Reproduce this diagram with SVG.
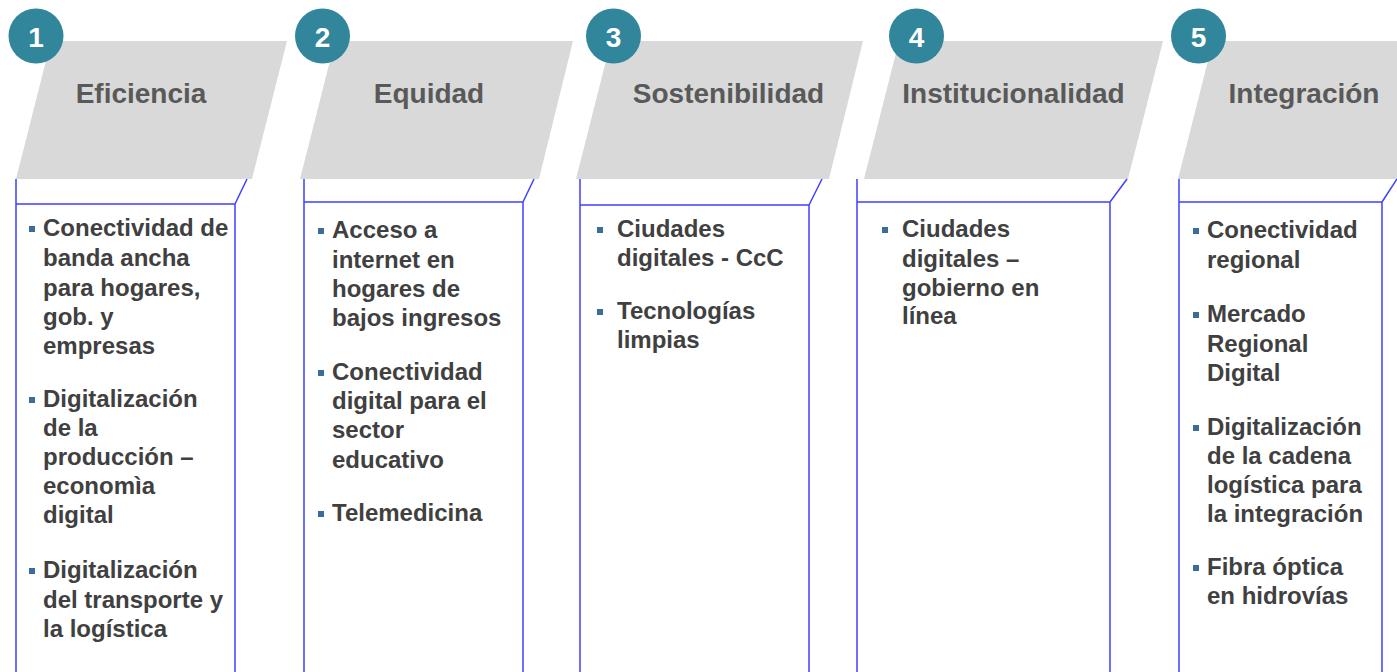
<svg xmlns="http://www.w3.org/2000/svg" width="1397" height="672" viewBox="0 0 1397 672">
<style>
.pg{fill:#d9d9d9}
.bx{fill:none;stroke:#4040ff;stroke-width:1.5}
.cc{fill:#31869b}
.num{font-family:"Liberation Sans",Arial,sans-serif;font-weight:bold;font-size:28px;fill:#ffffff;text-anchor:middle}
.ttl{font-family:"Liberation Sans",Arial,sans-serif;font-weight:bold;font-size:28px;fill:#595959;text-anchor:middle}
.tx{font-family:"Liberation Sans",Arial,sans-serif;font-weight:bold;font-size:24px;fill:#404040}
.bl{fill:#3a6c9c}
</style>
<rect width="1397" height="672" fill="#ffffff"/>

<g id="col1">
<polygon class="pg" points="51,41 287,41 252,179 16,179"/>
<path class="bx" d="M16,179 V672 M16,204 H235 V672 M235,204 L247,179"/>
<circle class="cc" cx="36" cy="36" r="27.5"/>
<text class="num" x="36" y="47">1</text>
<text class="ttl" x="141" y="103">Eficiencia</text>
<rect class="bl" x="29" y="226" width="6" height="6"/>
<rect class="bl" x="29" y="397" width="6" height="6"/>
<rect class="bl" x="29" y="568" width="6" height="6"/>
<text class="tx"><tspan x="43" y="236">Conectividad de</tspan><tspan x="43" y="266">banda ancha</tspan><tspan x="43" y="296">para hogares,</tspan><tspan x="43" y="325">gob. y</tspan><tspan x="43" y="354">empresas</tspan><tspan x="43" y="407">Digitalización</tspan><tspan x="43" y="436">de la</tspan><tspan x="43" y="465">producción –</tspan><tspan x="43" y="494">economìa</tspan><tspan x="43" y="523">digital</tspan><tspan x="43" y="578">Digitalización</tspan><tspan x="43" y="608">del transporte y</tspan><tspan x="43" y="637">la logística</tspan></text>
</g>

<g id="col2">
<polygon class="pg" points="335,41 573,41 539,179 300,179"/>
<path class="bx" d="M304,179 V672 M304,202 H523 V672 M523,202 L534,179"/>
<circle class="cc" cx="322.5" cy="36" r="27.5"/>
<text class="num" x="322.5" y="47">2</text>
<text class="ttl" x="429" y="103">Equidad</text>
<rect class="bl" x="318" y="228" width="6" height="6"/>
<rect class="bl" x="318" y="370" width="6" height="6"/>
<rect class="bl" x="318" y="511" width="6" height="6"/>
<text class="tx"><tspan x="332" y="238">Acceso a</tspan><tspan x="332" y="268">internet en</tspan><tspan x="332" y="297">hogares de</tspan><tspan x="332" y="326">bajos ingresos</tspan><tspan x="332" y="380">Conectividad</tspan><tspan x="332" y="409">digital para el</tspan><tspan x="332" y="438">sector</tspan><tspan x="332" y="468">educativo</tspan><tspan x="332" y="521">Telemedicina</tspan></text>
</g>

<g id="col3">
<polygon class="pg" points="611,41 863,41 829,179 576,179"/>
<path class="bx" d="M580,179 V672 M580,205 H809 V672 M809,205 L822,179"/>
<circle class="cc" cx="613.5" cy="36" r="27.5"/>
<text class="num" x="613.5" y="47">3</text>
<text class="ttl" x="728.5" y="103">Sostenibilidad</text>
<rect class="bl" x="597" y="227" width="6" height="6"/>
<rect class="bl" x="597" y="309" width="6" height="6"/>
<text class="tx"><tspan x="617" y="237">Ciudades</tspan><tspan x="617" y="266">digitales - CcC</tspan><tspan x="617" y="319">Tecnologías</tspan><tspan x="617" y="348">limpias</tspan></text>
</g>

<g id="col4">
<polygon class="pg" points="899,41 1163,41 1128,179 864,179"/>
<path class="bx" d="M857,179 V672 M857,202 H1110 V672 M1110,202 L1127,179"/>
<circle class="cc" cx="916.5" cy="36" r="27.5"/>
<text class="num" x="916.5" y="47">4</text>
<text class="ttl" x="1013.5" y="103">Institucionalidad</text>
<rect class="bl" x="882" y="227" width="6" height="6"/>
<text class="tx"><tspan x="902" y="237">Ciudades</tspan><tspan x="902" y="267">digitales –</tspan><tspan x="902" y="296">gobierno en</tspan><tspan x="902" y="324">línea</tspan></text>
</g>

<g id="col5">
<polygon class="pg" points="1213,41 1440,41 1405,179 1178,179"/>
<path class="bx" d="M1179,179 V672 M1179,202 H1382 V672 M1382,202 L1397,179"/>
<circle class="cc" cx="1198.5" cy="36" r="27.5"/>
<text class="num" x="1198.5" y="47">5</text>
<text class="ttl" x="1304" y="103">Integración</text>
<rect class="bl" x="1193" y="228" width="6" height="6"/>
<rect class="bl" x="1193" y="312" width="6" height="6"/>
<rect class="bl" x="1193" y="425" width="6" height="6"/>
<rect class="bl" x="1193" y="565" width="6" height="6"/>
<text class="tx"><tspan x="1207" y="238">Conectividad</tspan><tspan x="1207" y="268">regional</tspan><tspan x="1207" y="322">Mercado</tspan><tspan x="1207" y="352">Regional</tspan><tspan x="1207" y="381">Digital</tspan><tspan x="1207" y="435">Digitalización</tspan><tspan x="1207" y="464">de la cadena</tspan><tspan x="1207" y="493">logística para</tspan><tspan x="1207" y="522">la integración</tspan><tspan x="1207" y="575">Fibra óptica</tspan><tspan x="1207" y="604">en hidrovías</tspan></text>
</g>

<g id="connectors"></g>
</svg>
